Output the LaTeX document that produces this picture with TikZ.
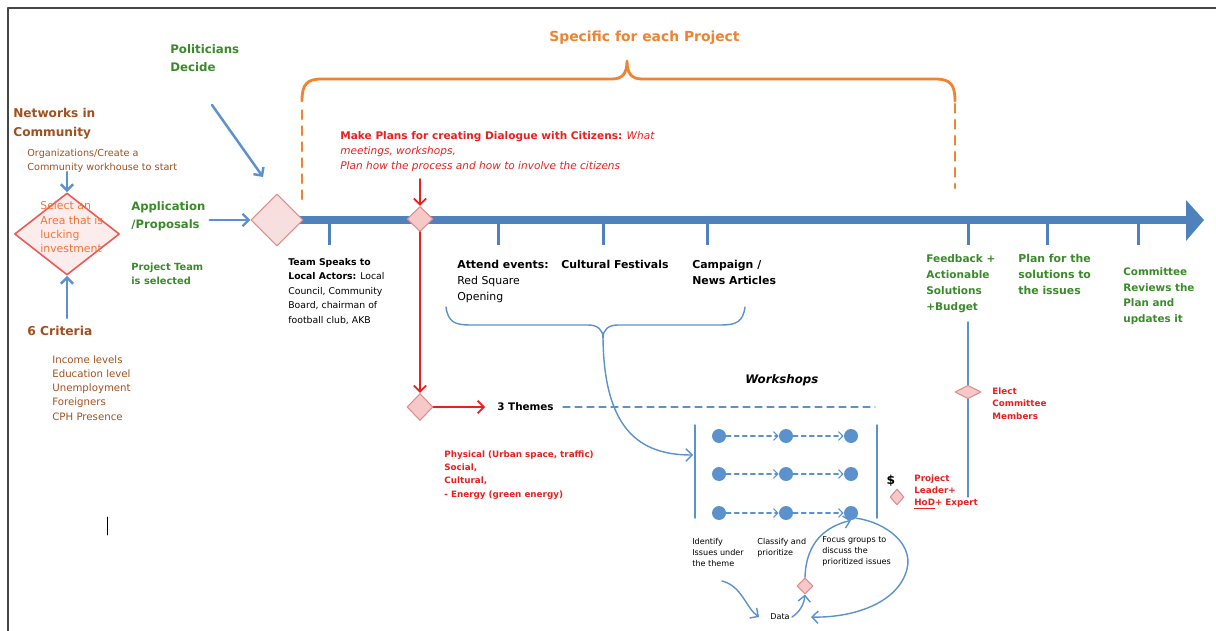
\documentclass[tikz,border=0pt]{standalone}
\usepackage{fontspec}
\setmainfont{DejaVu Sans}
\usetikzlibrary{shapes.geometric,arrows.meta}
\definecolor{tlblue}{RGB}{79,129,189}
\definecolor{arblue}{RGB}{91,146,205}
\definecolor{grn}{RGB}{58,138,42}
\definecolor{brn}{RGB}{160,80,30}
\definecolor{ornT}{RGB}{240,118,58}
\definecolor{orn}{RGB}{240,130,50}
\definecolor{rd}{RGB}{232,32,30}
\definecolor{pinkF}{RGB}{246,200,200}
\definecolor{pinkB}{RGB}{222,140,140}
\definecolor{frm}{RGB}{70,70,70}
\begin{document}
\begin{tikzpicture}[x=0.02cm,y=-0.02cm,>={Straight Barb[length=3.5pt,width=7pt]},line join=round,line cap=round,
	txt/.style={anchor=north west,inner sep=0pt,align=left},
	fs/.style 2 args={font=\fontsize{#1}{#2}\selectfont},
	fsb/.style 2 args={font=\bfseries\fontsize{#1}{#2}\selectfont},
	pdia/.style={diamond,draw=pinkB,fill=pinkF,inner sep=0pt,line width=0.6pt},
	barr/.style={arblue,line width=1.4pt,->},
	rarr/.style={rd,line width=1pt,->},
	wline/.style={arblue,line width=0.8pt},
	wdash/.style={arblue,line width=0.6pt,dash pattern=on 2.6pt off 2pt,-{Straight Barb[length=2.5pt,width=5pt]}},
	dot/.style={circle,fill=arblue,minimum size=0.28cm,inner sep=0pt},
	brk/.style={orn,line width=1.6pt}]
	\useasboundingbox (0,0) rectangle (1216,631);
	% khung
	\draw[frm,line width=0.05cm,line cap=butt] (8,631) -- (8,8) -- (1216,8);
	\draw[black,line width=0.4pt] (107,517) -- (107,535);
	\path
	(67,172) coordinate (orgA)
	(67,318) coordinate (critA)
	(212,105) coordinate (polA)
	(263,177) coordinate (polB)
	(420,179) coordinate (planA)
	(875,407) coordinate (dashB)
	(603,338) coordinate (braceT)
	(693,455) coordinate (wL)
	(968,322) coordinate (fbA)
	(968,497) coordinate (fbB)
	(722,581) coordinate (idA)
	(811,617) coordinate (dataB);
	% truc thoi gian
	\draw[tlblue,line width=0.16cm,line cap=butt] (277,220) -- (1187,220);
	\fill[tlblue] (1186,200) -- (1204,220) -- (1186,241) -- cycle;
	\foreach \x in {329,498,603,707,968,1047,1138}
	\draw[tlblue,line width=0.06cm,line cap=butt] (\x,224) -- (\x,245);
	% ngoac cam
	\draw[brk,dash pattern=on 0.17cm off 0.15cm] (302,199) -- (302,104);
	\draw[brk] (302,101) .. controls (302,84) and (307,79) .. (322,79) -- (612,79)
	.. controls (622,79) and (627,74) .. (627,61) .. controls (627,74) and (632,79) .. (642,79)
	-- (935,79) .. controls (950,79) and (955,84) .. (955,101);
	\draw[brk,dash pattern=on 0.17cm off 0.15cm] (955,104) -- (955,188);
	\node[txt,fsb={7.9}{9},text=orn] (spec) at (549,31) {Specific for each Project};
	% hinh thoi
	\node[pdia,draw=rd!75,fill=pinkF!35,line width=0.9pt,minimum width=2.1cm,minimum height=1.64cm] (dSel) at (67,234) {};
	\node[pdia,top color=pinkF!60,bottom color=pinkF!110!red!90,minimum width=1.04cm,minimum height=1.04cm] (dStart) at (277,220) {};
	\node[pdia,minimum width=0.52cm,minimum height=0.5cm] (dPlan) at (420,219) {};
	\node[pdia,minimum width=0.52cm,minimum height=0.54cm] (dThm) at (420,407) {};
	\node[pdia,minimum width=0.52cm,minimum height=0.27cm] (dElect) at (968,392) {};
	\node[pdia,minimum width=0.28cm,minimum height=0.32cm] (dBud) at (897,497) {};
	\node[pdia,minimum width=0.32cm,minimum height=0.32cm] (dData) at (805,586) {};
	% ben trai
	\node[txt,fsb={6.9}{10.5},text=brn] (net) at (13,108) {Networks in\\Community};
	\node[txt,fs={5.5}{7.9},text=brn] (org) at (27,149) {Organizations/Create a\\Community workhouse to start};
	\node[txt,fs={6.2}{8.2},text=ornT] (sel) at (40,201) {Select an\\Area that is\\lucking\\investment};
	\node[txt,fsb={7}{9},text=brn] (crit) at (27,326) {6 Criteria};
	\node[txt,fs={5.8}{8.1},text=brn] (critL) at (52,355) {Income levels\\Education level\\Unemployment\\Foreigners\\CPH Presence};
	\draw[barr] (orgA) -- (dSel.north);
	\draw[barr] (critA) -- (dSel.south);
	\node[txt,fsb={6.6}{10.2},text=grn] (app) at (131,201) {Application\\/Proposals};
	\node[txt,fsb={5.6}{7.8},text=grn] (team) at (131,263) {Project Team\\is selected};
	\node[txt,fsb={6.7}{10.4},text=grn] (pol) at (170,44) {Politicians\\Decide};
	\draw[barr] (app.east |- dStart.west) ++(0.08cm,0) -- (dStart.west);
	\draw[barr] (polA) -- (polB);
	% ke hoach
	\node[txt,fs={6}{8.5},text=rd] (mk) at (340,131) {\textbf{Make Plans for creating Dialogue with Citizens:} \textit{What}\\\textit{meetings, workshops,}\\\textit{Plan how the process and how to involve the citizens}};
	\draw[rarr] (planA) -- (dPlan.north);
	\draw[rarr] (dPlan.south) -- (dThm.north);
	\node[anchor=west,inner sep=0pt,fsb={5.9}{8}] (thm) at (497,407) {3 Themes};
	\draw[rarr] (dThm.east) -- ([xshift=-0.24cm]thm.west);
	\draw[arblue,line width=0.7pt,dash pattern=on 0.14cm off 0.1cm] ([xshift=0.18cm]thm.east) -- (dashB);
	\node[txt,fsb={5}{7.6},text=rd] (thmL) at (444,450) {Physical (Urban space, traffic)\\Social,\\Cultural,\\- Energy (green energy)};
	% cac moc
	\node[txt,fs={5.3}{8.2}] (spk) at (288,258) {\textbf{Team Speaks to}\\\textbf{Local Actors:} Local\\Council, Community\\Board, chairman of\\football club, AKB};
	\node[txt,fs={6.2}{9}] (att) at (457,260) {\textbf{Attend events:}\\Red Square\\Opening};
	\node[txt,fsb={6.2}{9}] (cult) at (561,260) {Cultural Festivals};
	\node[txt,fsb={6.2}{9}] (camp) at (692,260) {Campaign /\\News Articles};
	\draw[wline] (446,307) .. controls (448,322) and (455,325) .. (470,325) -- (588,325) .. controls (598,325) and (603,330) .. (braceT);
	\draw[wline] (745,307) .. controls (743,322) and (736,325) .. (721,325) -- (618,325) .. controls (608,325) and (603,330) .. (braceT);
	\draw[wline,->] (braceT) .. controls (604,430) and (640,455) .. (wL);
	% workshop
	\node[txt,font=\bfseries\itshape\fontsize{6.7}{8}\selectfont] (ws) at (745,374) {Workshops};
	\draw[wline] (695,425) -- (695,518) (877,425) -- (877,518);
	\foreach \r/\y in {1/436,2/474,3/513}{
		\foreach \c/\x in {1/719,2/786,3/851}
		\node[dot] (w\r\c) at (\x,\y) {};
		\draw[wdash] (w\r1) -- (w\r2);
		\draw[wdash] (w\r2) -- (w\r3);
	}
	\node[txt,fs={4.6}{6.2}] (idf) at (692,538) {Identify\\Issues under\\the theme};
	\node[txt,fs={4.6}{6.2}] (cls) at (757,538) {Classify and\\prioritize};
	\node[txt,fs={4.6}{6.2}] (foc) at (822,536) {Focus groups to\\discuss the\\prioritized issues};
	\node[anchor=west,inner sep=0pt,fs={4.6}{6}] (data) at (770,617) {Data};
	\draw[wline,->] (idA) .. controls (742,586) and (746,608) .. ([xshift=-0.22cm]data.west);
	\draw[wline,->] ([xshift=0.04cm]data.east) .. controls (800,612) and (804,604) .. (dData.south);
	\draw[wline,->] (dData.north) .. controls (806,540) and (828,526) .. (w33.south);
	\draw[wline,->] (w33.south east) .. controls (885,522) and (918,545) .. (905,575) .. controls (893,605) and (850,618) .. (dataB);
	% budget
	\node[fsb={7}{8}] (usd) at (891,481) {\$};
	\node[txt,fsb={5}{7.1},text=rd] (lead) at (914,474) {Project\\Leader+\\ \underline{HoD}+ Expert};
	\draw[wline] (fbA) -- (dElect.north) (dElect.south) -- (fbB);
	\node[txt,fsb={5}{7.2},text=rd] (elect) at (992,387) {Elect\\Committee\\Members};
	\node[txt,fsb={6}{9.2},text=grn] (fb) at (926,254) {Feedback +\\Actionable\\Solutions\\+Budget};
	\node[txt,fsb={6.2}{9.2},text=grn] (pfs) at (1018,254) {Plan for the\\solutions to\\the issues};
	\node[txt,fsb={5.9}{9}, text=grn] (rev) at (1123,267) {Committee\\Reviews the\\Plan and\\updates it};
\end{tikzpicture}
\end{document}
